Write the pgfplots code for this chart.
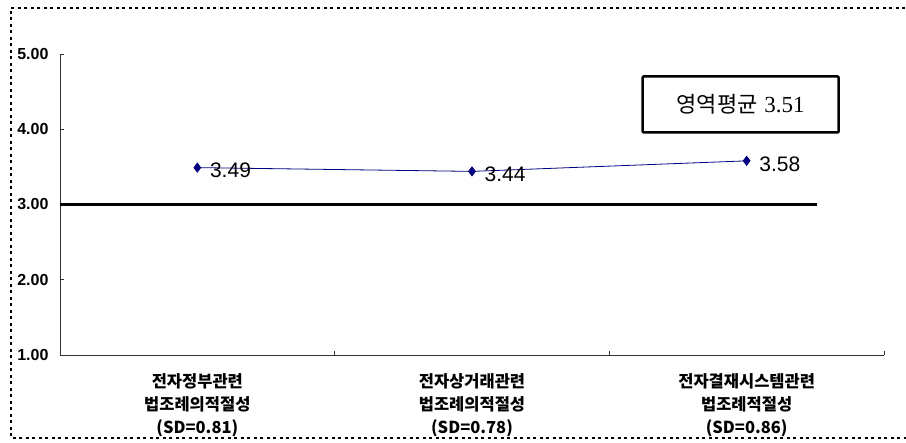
\documentclass[border=0pt]{standalone}
\usepackage{pgfplots}
\pgfplotsset{compat=1.18}
\usepackage{fontspec}
\setmainfont{Liberation Sans}
\newfontfamily\kr{Noto Sans CJK KR}
\newfontfamily\serif{Liberation Serif}
\definecolor{navyline}{RGB}{0,0,128}

\begin{document}
\begin{tikzpicture}
\useasboundingbox (-60pt,-88pt) rectangle (846pt,355pt);
\begin{axis}[
  at={(0pt,0pt)}, anchor=south west,
  scale only axis, width=824pt, height=301pt,
  xmin=-0.5, xmax=2.5, ymin=1, ymax=5,
  axis lines=left,
  axis line style={-, draw=black!80, line width=0.8pt},
  tick align=inside,
  major tick length=4pt,
  tick style={draw=black!80, line width=0.8pt},
  xtick={0.5,1.5,2.5}, xticklabels={},
  extra x ticks={0,1,2},
  extra x tick style={tick style={draw=none}},
  extra x tick labels={
    {전자정부관련\\법조례의적절성\\(SD=0.81)},
    {전자상거래관련\\법조례의적절성\\(SD=0.78)},
    {전자결재시스템관련\\법조례적절성\\(SD=0.86)}},
  xticklabel style={align=center, yshift=-15pt,
    font=\kr\bfseries\fontsize{16.5}{23}\selectfont},
  ytick={1,2,3,4,5},
  yticklabel style={font=\bfseries\fontsize{16}{16}\selectfont, xshift=-8pt,
    /pgf/number format/.cd, fixed, fixed zerofill, precision=2,
    assume math mode=true},
  clip=false,
]
% reference line at the scale midpoint
\addplot[black, line width=3pt, forget plot] coordinates {(-0.5,3) (2.256,3)};
% mean score of each item
\addplot[navyline, line width=0.8pt, mark=diamond*, mark size=4.5pt,
  mark options={fill=navyline, draw=navyline},
  nodes near coords,
  point meta=y,
  every node near coord/.append style={anchor=west, xshift=9pt, yshift=-3pt,
    text=black, font=\fontsize{21}{21}\selectfont,
    /pgf/number format/.cd, fixed, fixed zerofill, precision=2,
    assume math mode=true}]
  coordinates {(0,3.49) (1,3.44) (2,3.58)};
\node[draw=black, line width=2.5pt, rounded corners=1pt,
  minimum width=196pt, minimum height=56pt, inner sep=0pt]
  at (axis cs:1.978,4.329)
  {{\kr\fontsize{22}{22}\selectfont 영역평균}\hspace{7pt}{\serif\fontsize{23}{23}\selectfont 3.51}};
\end{axis}
\draw[black, line width=1.6pt, dash pattern=on 3pt off 3.5pt]
  (910pt,347pt) -- (-49pt,347pt) -- (-49pt,-83pt) -- (910pt,-83pt);
\end{tikzpicture}
\end{document}
